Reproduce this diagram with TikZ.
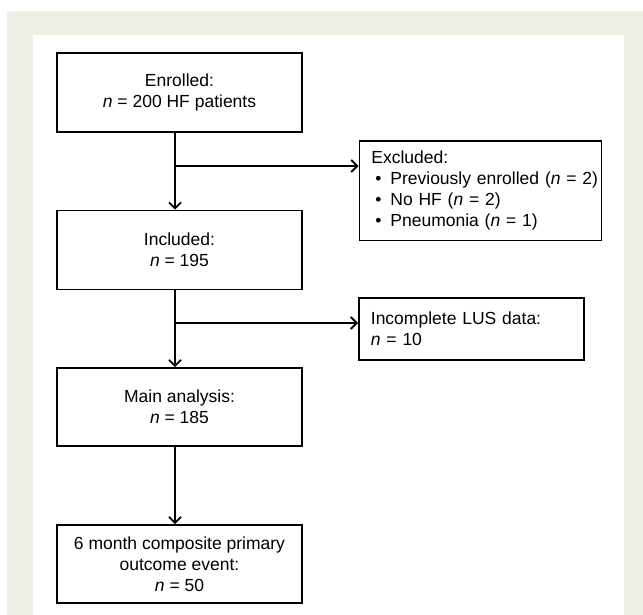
\documentclass[tikz,border=0pt]{standalone}
\usepackage{fontspec}
\setmainfont{Liberation Sans}
\usepackage{tikz}
\usetikzlibrary{arrows.meta,calc}
\definecolor{frameBeige}{RGB}{239, 238, 229}

\begin{document}
\begin{tikzpicture}[x=1pt, y=-1pt,
    box/.style={draw, line width=1.8pt, minimum width=245pt, minimum height=79pt,
      align=center, inner sep=0pt, font=\fontsize{17.5}{21}\selectfont},
    sidebox/.style={draw, line width=1.8pt, anchor=north west, align=left,
      inner xsep=12pt, inner ysep=0pt, font=\fontsize{17.5}{21}\selectfont},
    arr/.style={line width=1.8pt, -{Straight Barb[length=6pt, width=12pt, line width=1.8pt]}}]
        \useasboundingbox (0,0) rectangle (643,615);
        \fill[frameBeige] (7,11) rectangle (643,615);
        \fill[white] (33,35) rectangle (624,615);

        \node[box] (enrolled) at (179.5,92.5) {Enrolled:\\\textit{n} = 200 HF patients};
        \node[box] (included) at (179.5,250) {Included:\\\textit{n} = 195};
        \node[box, minimum height=78pt] (main) at (179.5,407) {Main analysis:\\\textit{n} = 185};
        \node[box, minimum height=78pt] (outcome) at (179.5,564)
          {6 month composite primary\\outcome event:\\\textit{n} = 50};

        \node[sidebox, minimum width=242pt, minimum height=99pt, text width=218pt] (excluded) at (358.5,140.5)
          {Excluded:\\
           \mbox{\makebox[19pt][l]{\hspace{4pt}•}Previously enrolled (\textit{n} = 2)}\\
           \mbox{\makebox[19pt][l]{\hspace{4pt}•}No HF (\textit{n} = 2)}\\
           \mbox{\makebox[19pt][l]{\hspace{4pt}•}Pneumonia (\textit{n} = 1)}};
        \node[sidebox, minimum width=225pt, minimum height=62pt, text width=201pt] (incomplete) at (358,297)
          {Incomplete LUS data:\\\textit{n} = 10};

        % branch points on the trunk
        \coordinate (b1) at (175,166);
        \coordinate (b2) at (175,323);

        \draw[arr] ([xshift=-4.5pt]enrolled.south) -- ([xshift=-4.5pt]included.north);
        \draw[arr] (b1) -- (b1 -| excluded.west);
        \draw[arr] ([xshift=-4.5pt]included.south) -- ([xshift=-4.5pt]main.north);
        \draw[arr] (b2) -- (b2 -| incomplete.west);
        \draw[arr] ([xshift=-4.5pt]main.south) -- ([xshift=-4.5pt]outcome.north);
      \end{tikzpicture}
\end{document}
